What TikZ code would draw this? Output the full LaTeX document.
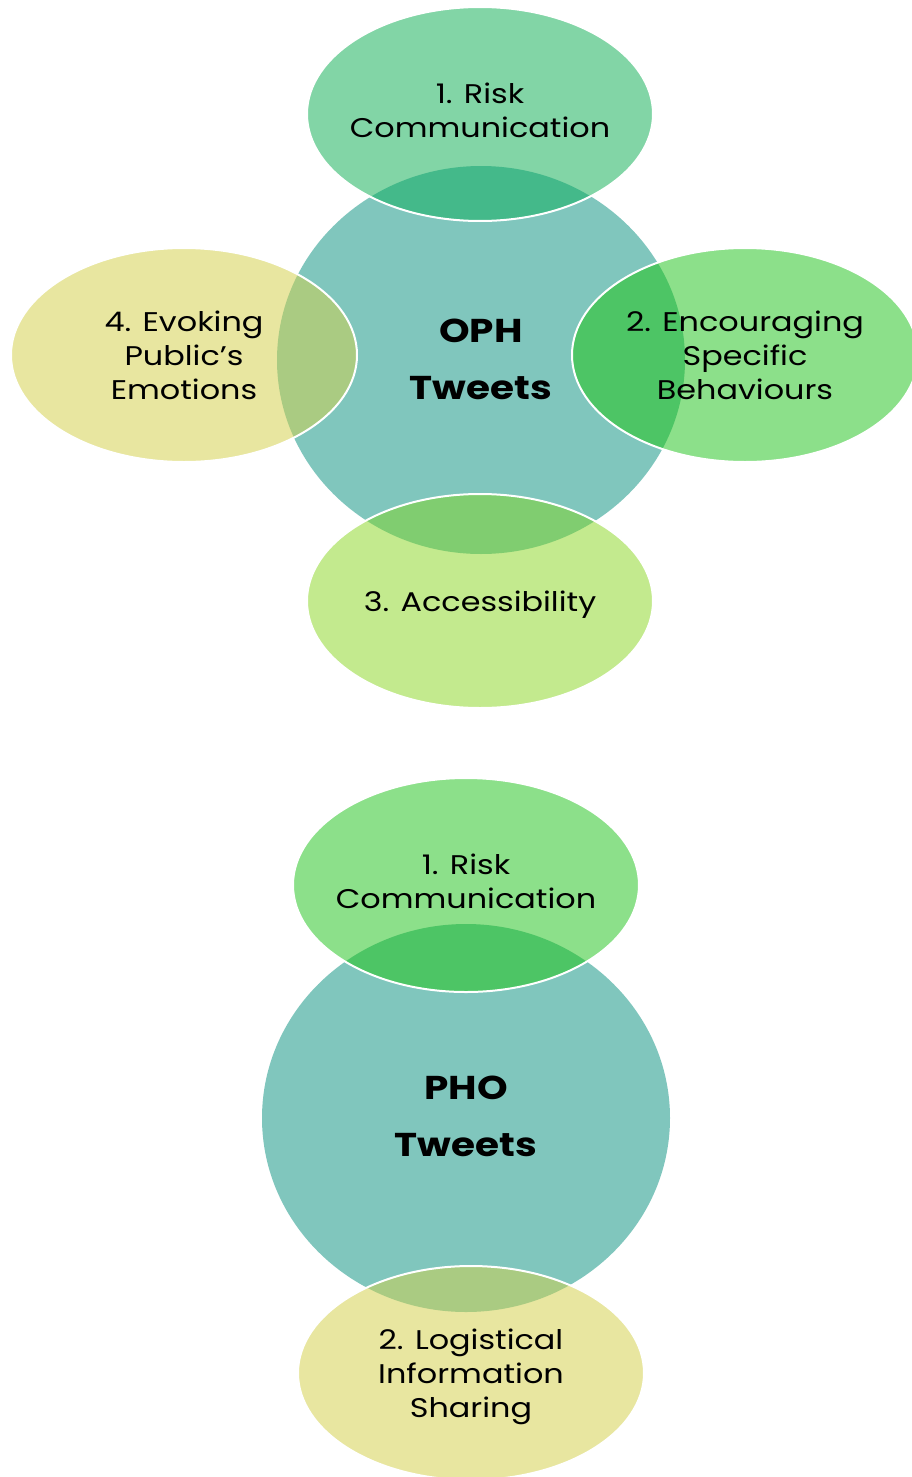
\documentclass[tikz,border=0pt]{standalone}
\usepackage{fontspec}
\setmainfont{Poppins}[FakeStretch=1.18]
\usetikzlibrary{shapes.geometric}

\definecolor{hubfill}{HTML}{80C6BD}
\definecolor{mintfill}{HTML}{82D5A6}
\definecolor{mintover}{HTML}{44B98A}
\definecolor{greenfill}{HTML}{8CE08A}
\definecolor{greenover}{HTML}{4DC565}
\definecolor{limefill}{HTML}{C3EA8E}
\definecolor{limeover}{HTML}{80CD70}
\definecolor{sandfill}{HTML}{E8E6A0}
\definecolor{sandover}{HTML}{AACB82}

% centred lines in a zero-width box, so the text never widens its shape;
% the optional argument nudges the lines up or down inside the shape
\newcommand\petaltext[2][0pt]{\makebox[0pt]{\raisebox{#1}[\height][\depth]{\begin{tabular}{@{}c@{}}#2\end{tabular}}}}

\tikzset{
  hub/.style={ellipse, fill=hubfill, inner sep=0pt,
    minimum width=408pt, minimum height=388pt,
    font=\bfseries\fontsize{33}{57}\selectfont},
  petal/.style={ellipse, draw=white, line width=2pt, inner sep=0pt,
    minimum width=346pt, minimum height=214pt,
    font=\fontsize{27}{34}\selectfont},
  % fill the petal and darken the part that lies over the hub
  tint/.style n args={3}{fill=#2,
    path picture={\fill[#3] (#1.center) ellipse [x radius=204pt, y radius=194pt];}}
}

\begin{document}
\begin{tikzpicture}[x=1pt, y=-1pt]
\useasboundingbox (0,0) rectangle (912,1477);
\fill[white] (0,0) rectangle (912,1477);

% ---- OPH tweets ----
\node[hub] (oph) at (481,360) {\petaltext{OPH\\Tweets}};
\node[petal, tint={oph}{mintfill}{mintover}] (risk) at (480,114) {\petaltext{1. Risk\\Communication}};
\node[petal, tint={oph}{greenfill}{greenover}] (behav) at (745,355) {\petaltext[-4pt]{2. Encouraging\\Specific\\Behaviours}};
\node[petal, tint={oph}{limefill}{limeover}] (access) at (480,601) {\petaltext[-4pt]{3. Accessibility}};
\node[petal, tint={oph}{sandfill}{sandover}] (emot) at (184,355) {\petaltext[-4pt]{4. Evoking\\Public’s\\Emotions}};

% ---- PHO tweets ----
\node[hub] (pho) at (466,1118) {\petaltext[1pt]{PHO\\Tweets}};
\node[petal, tint={pho}{greenfill}{greenover}] (risk2) at (466,885) {\petaltext{1. Risk\\Communication}};
\node[petal, tint={pho}{sandfill}{sandover}] (logis) at (471,1373) {\petaltext[-4pt]{2. Logistical\\Information\\Sharing}};
\end{tikzpicture}
\end{document}
